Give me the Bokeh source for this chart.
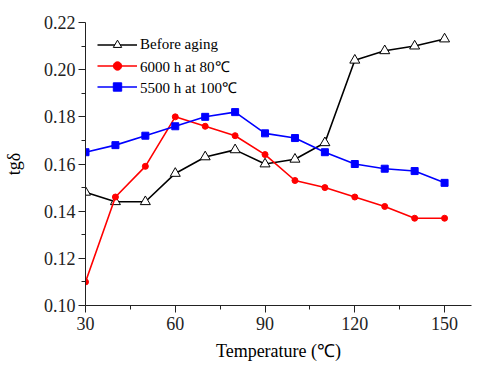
from bokeh.plotting import figure
from bokeh.models import Range1d, FixedTicker, PrintfTickFormatter, Legend, LegendItem
from bokeh.embed import file_html
from bokeh.resources import INLINE

temperature = [30, 40, 50, 60, 70, 80, 90, 100, 110, 120, 130, 140, 150]
before_aging = [0.148, 0.144, 0.144, 0.156, 0.163, 0.166, 0.160, 0.162, 0.169, 0.204, 0.208, 0.210, 0.213]
aged_6000h_80C = [0.110, 0.146, 0.159, 0.180, 0.176, 0.172, 0.164, 0.153, 0.150, 0.146, 0.142, 0.137, 0.137]
aged_5500h_100C = [0.165, 0.168, 0.172, 0.176, 0.180, 0.182, 0.173, 0.171, 0.165, 0.160, 0.158, 0.157, 0.152]

x_ticks = [30, 60, 90, 120, 150]
x_minor = [45, 75, 105, 135]
y_ticks = [0.10, 0.12, 0.14, 0.16, 0.18, 0.20, 0.22]
y_minor = [0.11, 0.13, 0.15, 0.17, 0.19, 0.21]

FONT = "Liberation Serif"

p = figure(width=480, height=366, output_backend="svg", toolbar_location=None,
           x_range=Range1d(30, 159), y_range=Range1d(0.10, 0.22),
           min_border_left=83, min_border_top=22, min_border_right=9, min_border_bottom=61)
p.outline_line_color = None
p.xgrid.visible = False
p.ygrid.visible = False

l1 = p.line(temperature, before_aging, line_color="black", line_width=1.6)
s1 = p.scatter(temperature, before_aging, marker="triangle", size=10, line_color="black",
               fill_color="white", line_width=1)
l2 = p.line(temperature, aged_6000h_80C, line_color="#ff0000", line_width=1.6)
s2 = p.scatter(temperature, aged_6000h_80C, marker="circle", size=6, line_color="#ff0000",
               fill_color="#ff0000")
l3 = p.line(temperature, aged_5500h_100C, line_color="#0000ff", line_width=1.6)
s3 = p.scatter(temperature, aged_5500h_100C, marker="square", size=7, line_color="#0000ff",
               fill_color="#0000ff")

legend = Legend(items=[
    LegendItem(label="Before aging", renderers=[l1, s1]),
    LegendItem(label="6000 h at 80℃", renderers=[l2, s2]),
    LegendItem(label="5500 h at 100℃", renderers=[l3, s3]),
], location="top_left")
legend.border_line_color = None
legend.background_fill_alpha = 0
legend.margin = 12
legend.padding = 9
legend.spacing = 0
legend.glyph_width = 40
legend.glyph_height = 21
legend.label_height = 21
legend.label_standoff = 3
legend.label_text_font = FONT
legend.label_text_font_size = "15px"
legend.label_text_color = "black"
p.add_layout(legend)

for ax in (p.xaxis[0], p.yaxis[0]):
    ax.axis_line_color = "#222222"
    ax.major_tick_line_color = "#222222"
    ax.minor_tick_line_color = "#222222"
    ax.major_tick_out = 7
    ax.major_tick_in = 0
    ax.minor_tick_out = 4
    ax.minor_tick_in = 0
    ax.major_label_text_font = FONT
    ax.major_label_text_font_size = "18px"
    ax.major_label_text_color = "#222222"
    ax.axis_label_text_font = FONT
    ax.axis_label_text_font_size = "18px"
    ax.axis_label_text_font_style = "normal"
    ax.axis_label_text_color = "black"

p.xaxis[0].ticker = FixedTicker(ticks=x_ticks, minor_ticks=x_minor)
p.yaxis[0].ticker = FixedTicker(ticks=y_ticks, minor_ticks=y_minor)
p.yaxis[0].formatter = PrintfTickFormatter(format="%.2f")
p.xaxis[0].axis_label = "Temperature (℃)"
p.yaxis[0].axis_label = "tgδ"
p.xaxis[0].axis_label_standoff = 8
p.yaxis[0].axis_label_standoff = 17
p.xaxis[0].major_label_standoff = 4
p.yaxis[0].major_label_standoff = 3

open("out.html", "w").write(file_html(p, INLINE))
